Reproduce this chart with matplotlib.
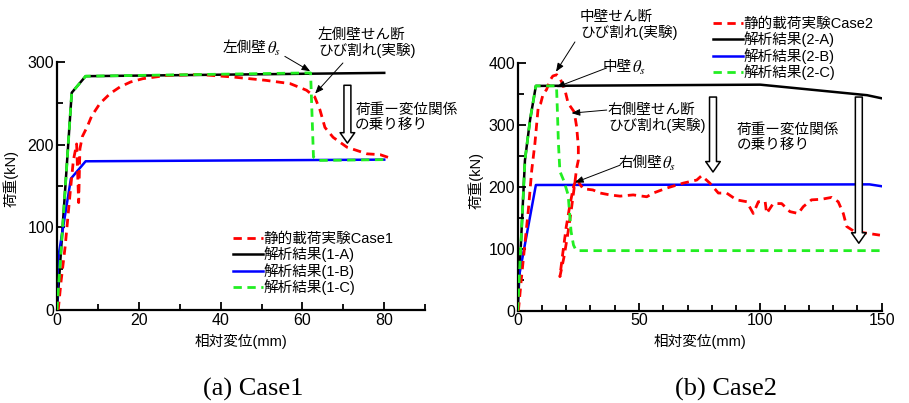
import matplotlib
matplotlib.use('Agg')
import matplotlib.pyplot as plt
from matplotlib.ticker import MultipleLocator

plt.rcParams['font.family'] = ['Liberation Sans', 'Noto Sans CJK JP']
plt.rcParams['mathtext.fontset'] = 'stix'

# ---- Case1 data ----
c1_exp_x = [0.3, 1.0, 2.0, 3.2, 4.0, 4.8, 5.3, 5.6, 6.2, 7.4, 8.5, 10.5, 13, 15.4, 18, 21, 27, 35,
            43, 51, 57, 61, 63, 64.3, 65.5, 67.5, 70.9, 75.8, 79, 81.4]
c1_exp_y = [0, 35, 77, 141, 181, 201, 130, 195, 210, 222, 235, 250, 262, 270, 276, 280, 284, 285,
            282, 278, 274, 266, 258, 242, 221, 209, 197, 189, 188, 184]
c1_a_x = [0, 3.6, 7.0, 80]
c1_a_y = [0, 263, 283, 287]
c1_b_x = [0, 0.2, 3.4, 7.0, 80]
c1_b_y = [0, 60, 159, 180, 182]
c1_c_x = [0, 3.6, 7.0, 62.0, 62.7, 64.0, 80]
c1_c_y = [0, 263, 283, 287, 185, 181, 182]
c1_labels = ['静的載荷実験Case1', '解析結果(1-A)', '解析結果(1-B)', '解析結果(1-C)']

# ---- Case2 data ----
c2_exp_x = [0.3, 1.6, 3.0, 4.4, 5.8, 7.1, 8.5, 9.5, 10.5, 11.9, 13.3, 14.5, 16.1, 17.5, 19.5, 20.8,
            23.3, 24.3, 25.0, 25.0, 24.3, 23.6, 22.0, 20.5, 19.0, 17.4, 18.5, 20.0, 21.5, 23.0,
            24.3, 25.5, 27, 31, 34, 38, 42.2, 47.6, 53.2, 55.9, 61.4, 68.2, 73.8, 75.8, 79.2,
            82.7, 86.1, 90.2, 94.4, 97.1, 99.2, 102, 102.6, 105.3, 108.8, 112.2, 115.6, 117.7,
            121.1, 125.3, 129.4, 132.1, 134.2, 135.6, 138.3, 142.4, 149.3]
c2_exp_y = [0, 55, 109, 163, 227, 270, 330, 335, 350, 357, 372, 379, 381, 375, 356, 335,
            321, 297, 265, 243, 230, 208, 160, 120, 85, 55, 90, 135, 170, 200,
            215, 205, 197, 195, 190, 187, 185, 187, 184, 190, 198, 206, 211, 218, 206,
            190, 190, 179, 176, 157, 176, 176, 157, 173, 173, 160, 157, 168,
            179, 180, 183, 176, 157, 136, 129, 126, 122]
c2_a_x = [0, 3.0, 5.1, 7.5, 100, 144, 150]
c2_a_y = [0, 243, 308, 363, 365, 348, 343]
c2_b_x = [0, 0.3, 7.5, 145, 150]
c2_b_y = [0, 50, 203, 204, 201]
c2_c_x = [0, 3.0, 5.1, 7.5, 16.0, 16.3, 16.8, 17.4, 19.0, 20.8, 22.0, 23.0, 24.0, 25.5, 150]
c2_c_y = [0, 243, 308, 363, 363, 330, 270, 225, 210, 187, 128, 106, 98, 97, 97]
c2_labels = ['静的載荷実験Case2', '解析結果(2-A)', '解析結果(2-B)', '解析結果(2-C)']

RED = '#ff0000'
GREEN = '#22ee22'
BLUE = '#0000ff'
dash = (0, (3, 2))
jfs = 10.5

fig = plt.figure(figsize=(9.09, 4.03), dpi=100)
ax1 = fig.add_axes([0.0627, 0.2308, 0.405, 0.615])
ax2 = fig.add_axes([0.5695, 0.229, 0.4004, 0.6147])


def style(ax, xmax, ymax, xmaj, xmin):
    ax.set_xlim(0, xmax)
    ax.set_ylim(0, ymax)
    for s in ['top', 'right']:
        ax.spines[s].set_visible(False)
    for s in ['left', 'bottom']:
        ax.spines[s].set_linewidth(1.6)
    ax.xaxis.set_major_locator(MultipleLocator(xmaj))
    ax.xaxis.set_minor_locator(MultipleLocator(xmin))
    ax.yaxis.set_major_locator(MultipleLocator(100))
    ax.yaxis.set_minor_locator(MultipleLocator(50))
    ax.tick_params(which='both', direction='in', width=1.3, labelsize=11.5, pad=2)
    ax.tick_params(which='major', length=6)
    ax.tick_params(which='minor', length=4)
    ax.set_xlabel('相対変位(mm)', fontsize=jfs)
    ax.set_ylabel('荷重(kN)', fontsize=jfs)


def arrow(ax, xy, xytext):
    ax.annotate('', xy=xy, xytext=xytext, annotation_clip=False,
                arrowprops=dict(arrowstyle='-|>,head_length=0.5,head_width=0.2',
                                color='black', lw=0.7, shrinkA=0, shrinkB=0))


def big_arrow(ax, x, y0, y1):
    ax.annotate('', xy=(x, y1), xytext=(x, y0), annotation_clip=False,
                arrowprops=dict(arrowstyle='simple,head_length=0.75,head_width=1.05,tail_width=0.5',
                                fc='white', ec='black', lw=1.1, shrinkA=0, shrinkB=0))


def theta_label(ax, x, y, name):
    t = ax.text(x, y, name, ha='right', va='center', fontsize=jfs, clip_on=False)
    ax.annotate(r'$\theta_s$', xy=(1, 0.45), xycoords=t, ha='left', va='center',
                fontsize=12, annotation_clip=False)


# ---- Case1 ----
style(ax1, 90, 300, 20, 10)
ax1.plot(c1_exp_x, c1_exp_y, color=RED, lw=2, ls=dash, label=c1_labels[0], zorder=3)
ax1.plot(c1_a_x, c1_a_y, color='black', lw=1.8, label=c1_labels[1], zorder=2)
ax1.plot(c1_b_x, c1_b_y, color=BLUE, lw=1.8, label=c1_labels[2], zorder=2)
ax1.plot(c1_c_x, c1_c_y, color=GREEN, lw=2, ls=dash, label=c1_labels[3], zorder=4)
ax1.legend(loc='upper left', bbox_to_anchor=(0.478, 0.315), frameon=False, fontsize=jfs,
           handlelength=2.05, handletextpad=0.05, labelspacing=0.05, borderpad=0, borderaxespad=0)

theta_label(ax1, 51.3, 317, '左側壁')
arrow(ax1, (61.9, 289), (55.7, 307))
ax1.text(63.8, 342, '左側壁せん断\nひび割れ(実験)', fontsize=jfs, ha='left', va='top',
         linespacing=1.1, clip_on=False)
arrow(ax1, (63.1, 262), (69.9, 299))
big_arrow(ax1, 71, 272, 202)
ax1.text(72.9, 251, '荷重ー変位関係\nの乗り移り', fontsize=jfs, ha='left', va='top', linespacing=1.1)

ax1.xaxis.set_label_coords(0.5, -0.095)
ax1.yaxis.set_label_coords(-0.103, 0.53)

# ---- Case2 ----
style(ax2, 150, 400, 50, 10)
ax2.plot(c2_exp_x, c2_exp_y, color=RED, lw=2, ls=dash, label=c2_labels[0], zorder=3)
ax2.plot(c2_a_x, c2_a_y, color='black', lw=1.8, label=c2_labels[1], zorder=2)
ax2.plot(c2_b_x, c2_b_y, color=BLUE, lw=1.8, label=c2_labels[2], zorder=2)
ax2.plot(c2_c_x, c2_c_y, color=GREEN, lw=2, ls=dash, label=c2_labels[3], zorder=4)
ax2.legend(loc='upper left', bbox_to_anchor=(0.537, 1.186), frameon=False, fontsize=jfs,
           handlelength=2.05, handletextpad=0.05, labelspacing=0.05, borderpad=0, borderaxespad=0)

ax2.text(25.7, 486, '中壁せん断\nひび割れ(実験)', fontsize=jfs, ha='left', va='top',
         linespacing=1.1, clip_on=False)
arrow(ax2, (15.8, 386), (23.6, 434))
theta_label(ax2, 47.0, 394, '中壁')
arrow(ax2, (16.0, 361), (36.7, 392))
ax2.text(37.2, 336, '右側壁せん断\nひび割れ(実験)', fontsize=jfs, ha='left', va='top', linespacing=1.1)
arrow(ax2, (22.2, 319), (36.7, 324))
theta_label(ax2, 59.5, 238, '右側壁')
arrow(ax2, (23.6, 207), (42.2, 235))
big_arrow(ax2, 80.5, 345, 224)
big_arrow(ax2, 140.6, 345, 109)
ax2.text(90.4, 304, '荷重ー変位関係\nの乗り移り', fontsize=jfs, ha='left', va='top', linespacing=1.1)

ax2.xaxis.set_label_coords(0.5, -0.095)
ax2.yaxis.set_label_coords(-0.093, 0.524)

fig.text(253.5 / 909, 1 - 389 / 403, '(a) Case1', family='Liberation Serif', fontsize=19,
         ha='center', va='center')
fig.text(726 / 909, 1 - 389 / 403, '(b) Case2', family='Liberation Serif', fontsize=19,
         ha='center', va='center')

fig.savefig('out.png', dpi=100)
